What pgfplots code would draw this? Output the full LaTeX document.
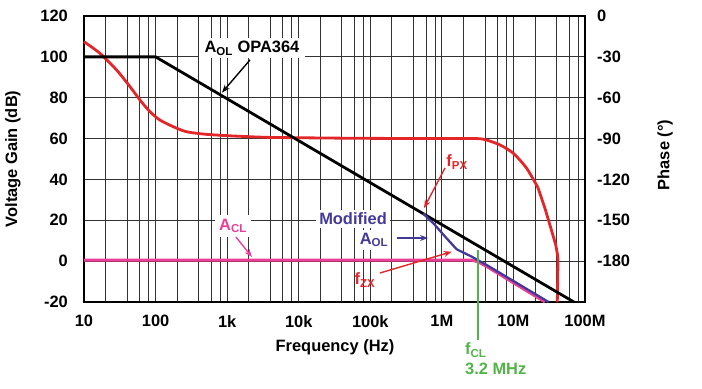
\documentclass[border=0pt]{standalone}
\usepackage{pgfplots}
\pgfplotsset{compat=1.18}
\usepackage{fontspec}
\setmainfont{Liberation Sans}
\usetikzlibrary{arrows.meta}
\definecolor{cred}{RGB}{226,38,42}
\definecolor{cpink}{RGB}{236,62,150}
\definecolor{cblue}{RGB}{66,58,150}
\definecolor{cgreen}{RGB}{82,180,72}
\newcommand{\f}{\fontsize{16.5}{19}\selectfont\bfseries}
\tikzset{arr/.style={-{Stealth[length=8bp,width=6bp]}, line width=1.4bp}}
\begin{document}
\begin{tikzpicture}[x=1bp,y=1bp]
\path[use as bounding box] (0,0) rectangle (702,388);
\begin{axis}[
  at={(84bp,86bp)}, anchor=south west, width=501bp, height=286bp, scale only axis,
  xmode=log, xmin=10, xmax=1e8, ymin=-20, ymax=120,
  xtick={10,100,1000,10000,100000,1000000,10000000,100000000},
  xticklabels={10,100,1k,10k,100k,1M,10M,100M},
  minor xtick={20,40,60,80,200,400,600,800,2000,4000,6000,8000,2e4,4e4,6e4,8e4,2e5,4e5,6e5,8e5,2e6,4e6,6e6,8e6,2e7,4e7,6e7,8e7},
  ytick={-20,0,20,40,60,80,100,120}, yticklabels={-20,0,20,40,60,80,100,120},
  grid=both, major grid style={line width=0.8bp, black!80}, minor grid style={line width=0.8bp, black!80},
  major tick length=0pt, minor tick length=0pt,
  axis line style={line width=2.8bp, black},
  /pgf/number format/assume math mode=true,
  tick label style={font=\f, inner sep=0pt},
  yticklabel style={anchor=east, xshift=-16bp},
  xticklabel style={anchor=north, yshift=-13bp},
  xlabel={Frequency (Hz)}, ylabel={Voltage Gain (dB)},
  every axis x label/.style={at={(rel axis cs:0.501,-0.157)}, anchor=center, font=\f},
  every axis y label/.style={at={(rel axis cs:-0.1417,0.5)}, anchor=center, rotate=90, font=\f},
  clip=false,
]
% Phase (degrees), mapped onto the gain scale
\addplot[cred, line width=2.8bp, smooth, tension=0.45, y filter/.expression={y/1.5+120}] coordinates {
(10,-18.9)(16.7,-27.4)(28.6,-39.7)(44,-51.9)(60.6,-61.7)(83.6,-70.3)(115,-76.4)(177,-81.3)(272,-85.0)(518,-86.9)(1220,-88.1)(3570,-89.1)(10400,-89.4)(71800,-89.8)(1e6,-90)(3.07e6,-90)(4.23e6,-91.1)(6.49e6,-94.7)(9.95e6,-100.8)(1.53e7,-111.8)(2.2e7,-126)};
\addplot[cred, line width=2.8bp, y filter/.expression={y/1.5+120}] coordinates {
(2.2e7,-126)(2.75e7,-141)(3.3e7,-155)(3.9e7,-168)(4.15e7,-176)(4.2e7,-179)(4.1e7,-210)};
% AOL OPA364
\addplot[black, line width=2.8bp] coordinates {(10,100)(100,100)(7e7,-20)};
% ACL
\addplot[cpink, line width=2.8bp] coordinates {(10,0.5)(2.6e6,0.5)(3.2e6,-0.4)(4.2e6,-2.6)(2.75e7,-20)};
% Modified AOL
\addplot[cblue, line width=2.3bp] coordinates {(5.5e5,23.3)(8.0e5,17.7)(1.11e6,12.0)(1.61e6,5.8)(2.61e6,2.2)(4.23e6,-1.9)(3.1e7,-20)};
% fCL
\addplot[cgreen, line width=2bp] coordinates {(3.2e6,5.5)(3.2e6,-38.6)};

\node[fill=white, font=\f, inner xsep=6bp, inner ysep=3bp] at (axis cs:2223,104.3) {A\textsubscript{OL} OPA364};
\draw[arr, black] (axis cs:2086,98.5) -- (axis cs:847,82.5);
\node[fill=white, text=cpink, font=\f, inner sep=4bp] at (axis cs:1208,17.2) {A\textsubscript{CL}};
\draw[arr, cpink] (axis cs:1330,11.8) -- (axis cs:2223,2.0);
\node[fill=white, text=cblue, font=\f, inner sep=3bp] at (axis cs:57400,20.6) {Modified};
\node[fill=white, text=cblue, font=\f, inner sep=3bp] at (axis cs:112700,10.35) {A\textsubscript{OL}};
\draw[arr, cblue] (axis cs:236000,11.33) -- (axis cs:640000,11.33);
\node[text=cred, font=\f, inner sep=0pt] at (axis cs:1.63e6,48.5) {f\textsubscript{PX}};
\draw[arr, cred] (axis cs:1.107e6,45.6) -- (axis cs:5.63e5,26);
\node[text=cred, font=\f, inner sep=0pt] at (axis cs:84400,-9.2) {f\textsubscript{ZX}};
\draw[arr, cred] (axis cs:136700,-5.8) -- (axis cs:1.374e6,4.6);
\node[text=cgreen, font=\f, inner sep=0pt, anchor=west] at (axis cs:2.1e6,-43.5) {f\textsubscript{CL}};
\node[text=cgreen, font=\f, inner sep=0pt, anchor=west] at (axis cs:2.1e6,-52.8) {3.2 MHz};
\end{axis}
\begin{axis}[
  at={(84bp,86bp)}, anchor=south west, width=501bp, height=286bp, scale only axis,
  xmode=log, xmin=10, xmax=1e8, ymin=-210, ymax=0,
  axis x line=none, axis y line*=right, y axis line style={draw=none},
  ytick={-180,-150,-120,-90,-60,-30,0}, yticklabels={-180,-150,-120,-90,-60,-30,0},
  major tick length=0pt,
  tick label style={font=\f, inner sep=0pt},
  yticklabel style={anchor=west, xshift=12bp},
  ylabel={Phase (°)},
  every axis y label/.style={at={(rel axis cs:1.1597,0.514)}, anchor=center, rotate=90, font=\f},
]
\addplot[draw=none] coordinates {(10,-100)};
\end{axis}
\end{tikzpicture}
\end{document}
